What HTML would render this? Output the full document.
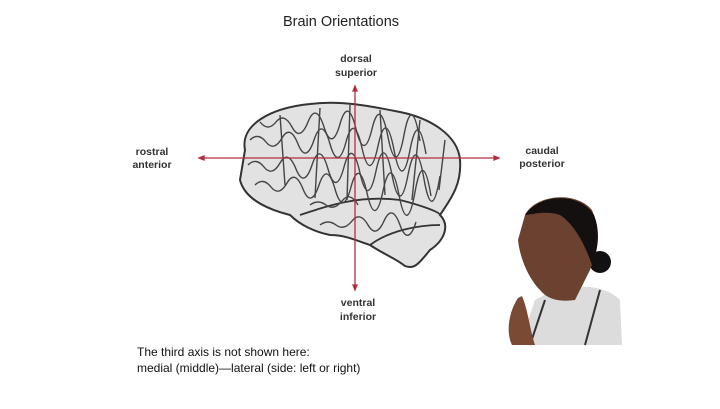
<!DOCTYPE html>
<html><head><style>
body{margin:0;width:720px;height:404px;background:#fff;overflow:hidden;font-family:"Liberation Sans",sans-serif}
</style></head><body>
<svg width="720" height="404" viewBox="0 0 720 404" xmlns="http://www.w3.org/2000/svg">
<text x="341" y="26" font-size="14.5" text-anchor="middle" fill="#222">Brain Orientations</text>
<g font-size="10.5" font-weight="bold" fill="#333" text-anchor="middle">
<text x="356" y="62">dorsal</text><text x="356" y="76">superior</text>
<text x="152" y="155">rostral</text><text x="152" y="168">anterior</text>
<text x="542" y="154">caudal</text><text x="542" y="167">posterior</text>
<text x="358" y="306">ventral</text><text x="358" y="320">inferior</text>
</g>
<!-- brain -->
<path d="M245 150 C240 125 270 108 310 104 C340 100 370 106 400 112 C430 118 458 135 460 160 C462 185 450 200 440 215 C450 225 445 240 430 250 C420 262 415 270 405 266 C395 258 385 255 370 245 C355 240 345 235 330 235 C315 232 300 225 290 215 C270 210 245 200 240 180 Z" fill="#e2e2e2" stroke="#333" stroke-width="2"/>
<path d="M300 215 C330 205 360 195 400 200 C420 205 440 212 440 215 M370 245 C390 230 420 225 440 225" fill="none" stroke="#333" stroke-width="1.8"/>
<g fill="none" stroke="#444" stroke-width="1.4">
<path d="M260 122 q8 10 16 0 t16 5 t16 -5 t16 5 t16 -3 t16 5 t16 0 t16 8 t16 -2 t16 6"/>
<path d="M250 140 q8 -8 16 2 t16 -4 t16 6 t16 -4 t16 4 t16 -2 t16 6 t16 -2 t16 4 t16 0 t16 4"/>
<path d="M248 165 q8 -8 16 2 t16 -4 t16 6 t16 -4 t16 4 t16 -2 t16 6 t16 -2 t16 4 t16 0 t16 4 t16 -3"/>
<path d="M255 185 q8 -8 16 2 t16 -4 t16 6 t16 -4 t16 4 t16 -2 t16 6 t16 -2 t16 4 t16 -3 t16 4"/>
<path d="M310 205 q8 -6 16 0 t16 -4 t16 4"/>
<path d="M320 225 q8 -6 16 0 t16 -4 t16 4 t16 -4 t16 4 t16 -3"/>
<path d="M280 115 l5 70 M320 108 l-5 90 M380 110 l5 85 M420 120 l-8 80 M350 105 l-3 95 M445 140 l-6 50"/>
</g>
<!-- axes -->
<g stroke="#b03040" stroke-width="1.3" fill="#b03040">
<line x1="202" y1="158" x2="496" y2="158"/><line x1="355" y1="89" x2="355" y2="287"/>
<path d="M199 158 l5 -2 v4z"/><path d="M499 158 l-5 -2 v4z"/>
<path d="M355 86 l-2 5 h4z"/><path d="M355 290 l-2 -5 h4z"/>
</g>
<!-- woman -->
<path d="M520 345 L535 300 C560 285 600 280 620 300 L622 345 Z" fill="#dcdcdc"/>
<path d="M545 300 L530 345 M600 290 L585 345" stroke="#333" stroke-width="2"/>
<ellipse cx="600" cy="262" rx="11" ry="11" fill="#111"/>
<path d="M525 215 C535 195 575 190 592 210 C600 230 598 250 590 270 L575 300 C560 302 548 300 540 290 C530 280 520 260 518 240 Z" fill="#6b4230"/>
<path d="M525 215 C540 193 580 192 594 215 C602 235 596 255 592 265 C585 245 575 225 560 215 C545 210 530 215 525 215 Z" fill="#151010"/>
<path d="M518 298 C510 310 505 330 512 345 L535 345 C530 330 528 310 522 296 Z" fill="#7a4a35"/>
<text x="137" y="356" font-size="12" fill="#111">The third axis is not shown here:</text>
<text x="137" y="372" font-size="12" fill="#111">medial (middle)—lateral (side: left or right)</text>
</svg>
</body></html>
